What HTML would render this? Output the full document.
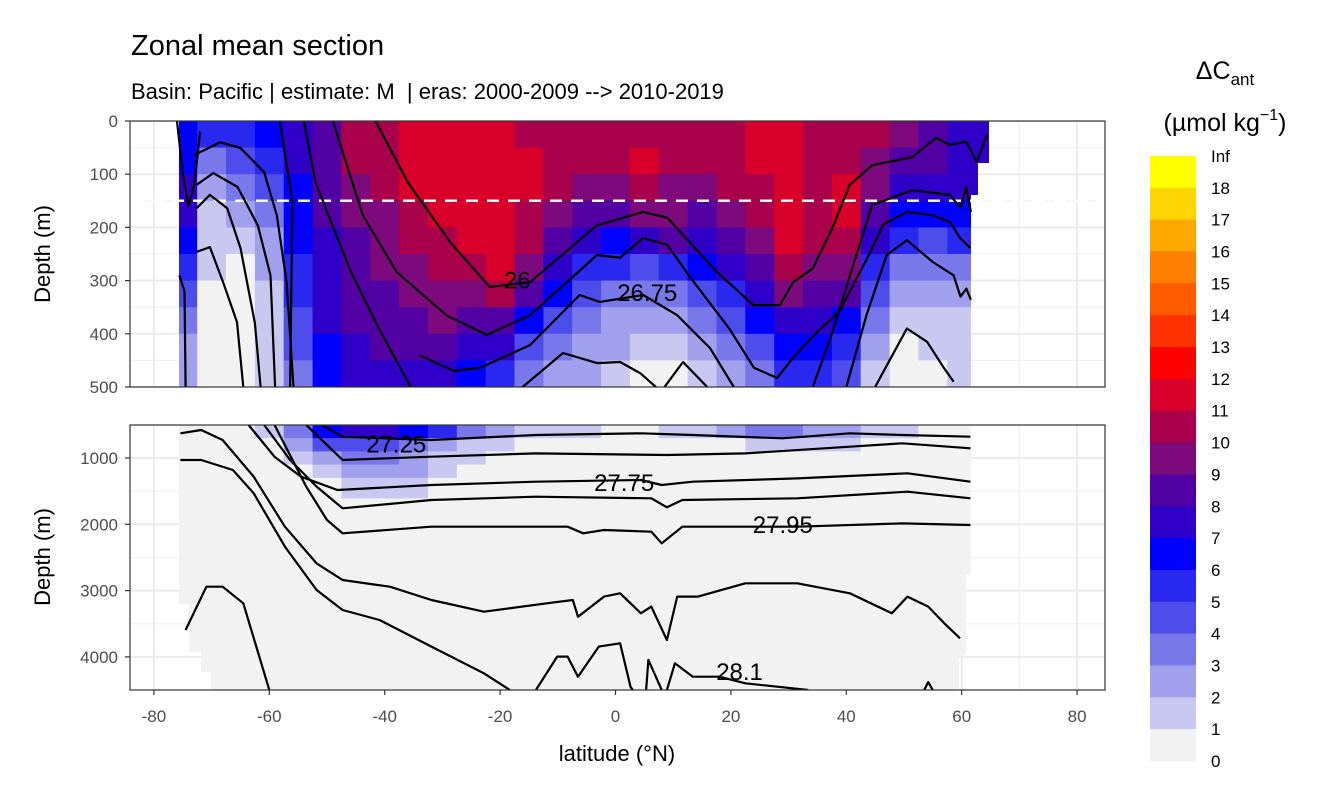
<!DOCTYPE html>
<html><head><meta charset="utf-8"><style>
html,body{margin:0;padding:0;background:#fff;}
svg{display:block;font-family:"Liberation Sans",Arial,sans-serif;}
</style></head><body>
<svg id="chart" width="1344" height="806" viewBox="0 0 1344 806" xmlns="http://www.w3.org/2000/svg">
<defs>
<clipPath id="clipTop"><polygon points="179,121 989,121 989,163 978,163 978,195 971,195 971,387 179,387"/></clipPath>
<clipPath id="clipBot"><polygon points="179,425 971,425 971,575 966,575 966,655 959,655 959,690 211,690 211,672 201,672 201,652 189,652 189,604 179,604"/></clipPath>
<clipPath id="panelTop"><rect x="130" y="121" width="975" height="266"/></clipPath>
<clipPath id="panelBot"><rect x="130" y="425" width="975" height="265"/></clipPath>
</defs>
<text x="131" y="55" font-size="29" fill="#000">Zonal mean section</text>
<text x="131" y="99" font-size="22" fill="#000" xml:space="preserve">Basin: Pacific | estimate: M  | eras: 2000-2009 --&gt; 2010-2019</text>
<g id="gTop"></g>
<g id="gBot"></g>
<g id="gAxes"></g>
<g id="gLegend">
<text x="1225" y="79" font-size="25" text-anchor="middle">ΔC<tspan font-size="17" dy="6">ant</tspan></text>
<text x="1225" y="131" font-size="25" text-anchor="middle">(µmol kg<tspan font-size="16" dy="-11">−1</tspan><tspan dy="11">)</tspan></text>
</g>
</svg>
<script>
const lats = [-75,-70,-65,-60,-55,-50,-45,-40,-35,-30,-25,-20,-15,-10,-5,0,5,10,15,20,25,30,35,40,45,50,55,60];
const topDepths = [0,50,100,150,200,250,300,350,400,450];
const topValues = [
[6,6,7,7,6,5,4,3,2,2],[5,3,2,1,1,1,0,0,0,0],[5,4,3,2,1,0,0,0,0,0],[6,5,4,3,2,2,1,1,1,1],
[7,7,6,6,6,5,5,4,4,3],[8,8,8,8,7,7,7,7,6,6],[10,10,9,9,8,8,8,8,7,7],[10,10,10,9,9,9,8,8,8,7],
[11,11,11,10,10,9,9,8,8,7],[11,11,11,11,10,10,9,9,8,7],[11,11,11,11,11,10,9,8,7,6],[11,11,11,11,11,11,10,8,7,5],
[10,11,11,10,10,9,8,6,4,3],[10,10,10,9,8,7,6,4,3,2],[10,10,9,8,7,5,4,3,2,2],[10,10,9,8,6,5,3,2,2,1],
[10,11,10,9,7,4,3,2,1,0],[10,10,9,9,8,5,3,2,1,0],[10,10,9,8,7,6,4,3,2,1],[10,10,10,9,8,7,5,4,3,2],
[11,11,10,10,9,8,7,6,4,3],[11,11,11,11,11,10,9,7,6,5],[10,10,10,10,10,9,8,7,6,5],[10,10,11,11,10,9,8,6,5,4],
[10,9,9,8,7,5,4,3,2,1],[9,8,7,6,5,3,2,1,0,0],[8,8,7,6,4,3,2,1,1,0],[7,7,7,6,5,3,2,1,1,1]];
const botDepths = [500,700,900,1100,1300,1600];
const botValues = [
[0,0,0,0,0],[0,0,0,0,0],[0,0,0,0,0],[1,0,0,0,0],[3,2,1,0,0],[6,4,2,1,0],[7,4,3,2,1],[7,4,3,2,1],
[6,3,2,2,1],[5,2,1,1,0],[3,1,1,0,0],[2,1,0,0,0],[1,0,0,0,0],[1,0,0,0,0],[1,0,0,0,0],[0,0,0,0,0],
[0,0,0,0,0],[1,0,0,0,0],[1,0,0,0,0],[2,0,0,0,0],[3,1,0,0,0],[3,1,0,0,0],[2,1,0,0,0],[2,1,0,0,0],
[1,0,0,0,0],[1,0,0,0,0],[0,0,0,0,0],[0,0,0,0,0]];
const binColors = ["#F2F2F2","#C8C8F0","#A0A0EC","#7878EA","#4D4DEB","#2828EE","#0000FF","#2E00C8","#5200A3","#7C0A7C","#A8004A","#D8002A","#FF0000","#FF3300","#FF5A00","#FF7F00","#FFA800","#FFD400","#FFFF00"];
const legendLabels = ["Inf","18","17","16","15","14","13","12","11","10","9","8","7","6","5","4","3","2","1","0"];
const xTicks = [-80,-60,-40,-20,0,20,40,60,80];
const yTicksTop = [0,100,200,300,400,500];
const yTicksBot = [1000,2000,3000,4000];
const topContours = [
[[-41.6,0],[-36,115],[-28.7,227],[-21.8,312],[-14.8,303],[-3.2,196],[4.8,171],[9,182],[17.6,284],[23.9,346],[28.5,346],[30.8,303],[34.2,277],[37.6,201],[40.6,120],[44.5,83],[51.4,68],[55.6,32],[57.9,45],[60.8,39],[62.6,77],[64.4,26]],
[[-49,0],[-43.8,177],[-37.9,284],[-29.3,365],[-22.3,402],[-14.8,365],[-3.2,252],[0.8,257],[4.8,220],[9,233],[12.7,290],[16.2,340],[19.7,390],[24,464],[28,483],[30.8,445],[34.9,397],[38.8,359],[41.2,308],[44.2,246],[46.4,195],[50.5,171],[55,177],[58,190],[59.7,220],[61.5,239]],
[[-54,0],[-52,115],[-46,280],[-41,390],[-35.5,500]],
[[-34,440],[-28,470],[-23.4,464],[-14.8,421],[-6.2,327],[-2.7,340],[4.8,327],[10.7,365],[16.4,427],[20.5,500]],
[[-16.1,500],[-9.1,436],[-3.2,455],[0.8,453],[4.3,474],[7,500]],
[[8.5,500],[11.7,453],[15.9,500]],
[[34.2,500],[37.6,397],[41.2,271],[44.5,158],[51.4,130],[57.9,139],[59.8,163],[60.8,124],[61.6,171]],
[[40,500],[43.5,365],[47,252],[50.5,224],[55,265],[58.6,290],[59.8,330],[60.8,315],[61.6,336]],
[[45,500],[50.5,390],[54,415],[56.9,464],[58.6,490]],
[[-58.2,0],[-56,150],[-56.4,500]],
[[-73,64],[-68.5,40],[-65,51],[-60.9,96],[-58.7,177],[-57,303],[-55.8,500]],
[[-72.6,120],[-69.7,98],[-65.5,124],[-62,196],[-59.8,290],[-59,500]],
[[-72.6,164],[-70.3,139],[-67.3,164],[-65,239],[-62.5,380],[-61.5,500]],
[[-72.6,246],[-70.3,237],[-68,303],[-65.6,378],[-64.5,500]],
[[-75.6,290],[-74.7,320],[-74.5,500]],
[[-76,0],[-75,100],[-74,160],[-73,120],[-72,20]]];
const botContours = [
[[-75.4,628],[-71.8,578],[-68.1,729],[-62.7,1282],[-57.3,2036],[-51.8,2589],[-47.3,2840],[-39.1,2941],[-31.9,3142],[-22.8,3318],[-11.9,3192],[-7.4,3142],[-6.5,3393],[-2,3091],[0.8,3041],[4.4,3343],[6.2,3242],[8.9,3745],[10.7,3091],[14.3,3091],[22.5,2890],[31.5,2890],[40.6,3041],[47.9,3343],[50.6,3091],[54.2,3242],[57,3494],[59.7,3720]],
[[-75.4,1030],[-71.8,1030],[-66.3,1181],[-62.7,1533],[-57.3,2337],[-51.8,2991],[-47.3,3292],[-40.9,3443],[-31.9,3845],[-22.8,4248],[-18.3,4500]],
[[-74.5,3594],[-70.9,2941],[-68.1,2941],[-64.5,3192],[-60,4500]],
[[-13.8,4500],[-10.1,3996],[-8.3,3996],[-6.5,4298],[-2.9,3845],[0.8,3795],[2.6,4449],[3,4500]],
[[5.3,4500],[5.7,4046],[8,4500]],
[[8.9,4500],[10.3,4097],[13.4,4298],[18,4298],[22.5,4398],[33.4,4500]],
[[53.5,4500],[54.2,4380],[55,4500]],
[[-50.9,500],[-47.3,678],[-31.9,729],[-13.8,653],[4.4,628],[13.4,653],[28.9,703],[40.6,628],[49.7,653],[61.5,678]],
[[-53.6,500],[-47.3,1030],[-31.9,980],[-13.8,930],[8.9,955],[22.5,930],[40.6,829],[49.7,779],[61.5,854]],
[[-63.6,500],[-59.1,980],[-54.5,1282],[-48.2,1483],[-31.9,1407],[-13.8,1357],[4.4,1332],[8,1407],[13.4,1357],[31.5,1307],[50.6,1231],[61.5,1357]],
[[-60.9,500],[-56.4,1030],[-51.8,1432],[-47.3,1759],[-31.9,1633],[-13.8,1583],[6.2,1608],[8.9,1744],[11.6,1633],[31.5,1608],[50.6,1508],[61.5,1608]],
[[-59.1,500],[-53.6,1432],[-50,1935],[-47.3,2136],[-31.9,2036],[-8.3,2036],[-5.6,2136],[-2,2086],[6.2,2111],[8,2287],[11.6,2036],[31.5,2036],[49.7,1986],[61.5,2011]]];
const contourLabels = [["26",-17,300,"top"],["26.75",5.5,323,"top"],["27.25",-38,795,"bot"],["27.75",1.5,1380,"bot"],["27.95",29,2010,"bot"],["28.1",21.5,4230,"bot"]];

const NS="http://www.w3.org/2000/svg";
const xS = lat => 615.5 + 5.77*lat;
const yT = d => 121 + d*0.532;
const yB = d => 458 + (d-1000)*0.0663;
function mk(tag, attrs, parent){const e=document.createElementNS(NS,tag);for(const k in attrs)e.setAttribute(k,attrs[k]);parent.appendChild(e);return e;}
const colorOf = v => binColors[Math.max(0,Math.min(18,Math.floor(v)))];

function drawPanel(g, y0, y1, yScale, gridMajor, gridMinor, clipId, panelClip, depths, values, contours, which){
  mk('rect',{x:130,y:y0,width:975,height:y1-y0,fill:'#fff'},g);
  const grid=mk('g',{'clip-path':'url(#'+panelClip+')'},g);
  [-90,-70,-50,-30,-10,10,30,50,70,90].forEach(v=>mk('line',{x1:xS(v),x2:xS(v),y1:y0,y2:y1,stroke:'#F2F2F2','stroke-width':1.2},grid));
  gridMinor.forEach(d=>mk('line',{x1:130,x2:1105,y1:yScale(d),y2:yScale(d),stroke:'#F2F2F2','stroke-width':1.2},grid));
  xTicks.forEach(v=>mk('line',{x1:xS(v),x2:xS(v),y1:y0,y2:y1,stroke:'#EBEBEB','stroke-width':2},grid));
  gridMajor.forEach(d=>mk('line',{x1:130,x2:1105,y1:yScale(d),y2:yScale(d),stroke:'#EBEBEB','stroke-width':2},grid));
  const cells=mk('g',{'clip-path':'url(#'+clipId+')'},g);
  
  
  mk('rect',{x:130,y:y0,width:975,height:y1-y0,fill:'#F2F2F2'},cells);
  lats.forEach((lat,i)=>{
    const xa=xS(lat-2.5), xb=(i===lats.length-1)?xS(66):xS(lat+2.5);
    values[i].forEach((v,j)=>{
      const ya=yScale(depths[j]), yb=yScale(depths[j+1]!==undefined?depths[j+1]:500);
      const r=mk('rect',{x:xa.toFixed(1),y:ya.toFixed(1),width:(xb-xa+0.6).toFixed(1),height:(yb-ya+0.6).toFixed(1),fill:colorOf(v)},cells);
      
      
    });
  });
  if(which==='top'){
    const dash=mk('line',{x1:130,x2:1105,y1:yT(150),y2:yT(150),stroke:'#fff','stroke-width':2.5,'stroke-dasharray':'12,9','stroke-opacity':0.95},g);
    
    
  }
  const cg=mk('g',{'clip-path':'url(#'+panelClip+')',fill:'none',stroke:'#000','stroke-width':2.2,'stroke-linejoin':'round'},g);
  contours.forEach(c=>{
    const p=mk('polyline',{points:c.map(q=>xS(q[0]).toFixed(1)+','+yScale(q[1]).toFixed(1)).join(' ')},cg);
    
    
  });
  contourLabels.filter(l=>l[3]===which).forEach(l=>{
    const t=mk('text',{x:xS(l[1]),y:yScale(l[2])+8,'font-size':24,'text-anchor':'middle',fill:'#000'},g);
    t.textContent=l[0];
    
    
  });
  mk('rect',{x:130,y:y0,width:975,height:y1-y0,fill:'none',stroke:'#333','stroke-width':1.2},g);
}
drawPanel(document.getElementById('gTop'),121,387,yT,yTicksTop,[50,150,250,350,450],'clipTop','panelTop',topDepths,topValues,topContours,'top');
drawPanel(document.getElementById('gBot'),425,690,yB,yTicksBot,[1500,2500,3500],'clipBot','panelBot',botDepths,botValues,botContours,'bot');

const ax=document.getElementById('gAxes');
function tick(x1,y1,x2,y2){mk('line',{x1,y1,x2,y2,stroke:'#333','stroke-width':1.2},ax);}
yTicksTop.forEach(d=>{tick(125,yT(d),130,yT(d));const t=mk('text',{x:118,y:yT(d)+6,'font-size':17,'text-anchor':'end',fill:'#4D4D4D'},ax);t.textContent=d;
  
  });
yTicksBot.forEach(d=>{tick(125,yB(d),130,yB(d));const t=mk('text',{x:118,y:yB(d)+6,'font-size':17,'text-anchor':'end',fill:'#4D4D4D'},ax);t.textContent=d;
  
  });
xTicks.forEach(v=>{tick(xS(v),690,xS(v),695);const t=mk('text',{x:xS(v),y:722,'font-size':17,'text-anchor':'middle',fill:'#4D4D4D'},ax);t.textContent=v;
  
  });
[[254,'y-axis-title-top'],[557,'y-axis-title-bottom']].forEach(([cy,n])=>{
  const t=mk('text',{x:0,y:0,transform:'translate(50,'+cy+') rotate(-90)','font-size':22,'text-anchor':'middle',fill:'#000'},ax);t.textContent='Depth (m)';
  
  });
const xt=mk('text',{x:617,y:761,'font-size':22,'text-anchor':'middle',fill:'#000'},ax);xt.textContent='latitude (°N)';



const lg=document.getElementById('gLegend');
const binH=(761-156)/19;
for(let k=0;k<19;k++){
  const r=mk('rect',{x:1150,y:(156+k*binH).toFixed(1),width:46,height:(binH+0.5).toFixed(1),fill:binColors[18-k]},lg);
  
  
}
legendLabels.forEach((s,k)=>{
  const t=mk('text',{x:1211,y:(156+k*binH+6).toFixed(1),'font-size':17,fill:'#000'},lg);t.textContent=s;
  
  
});
</script>
</body></html>
